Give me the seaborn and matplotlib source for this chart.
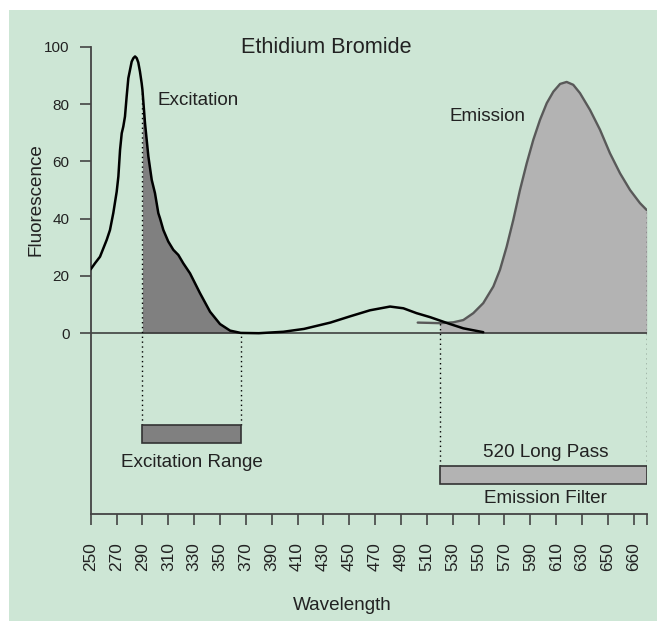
import numpy as np
import matplotlib
matplotlib.use("Agg")
import matplotlib.pyplot as plt
from matplotlib.patches import Rectangle
import seaborn as sns

# ---- data ----
exc_x = [250, 253.3, 257.2, 262.4, 264.9, 267.5, 270.1, 271.4, 272.7, 274, 275.2, 276.5, 277.8,
         279.1, 281.7, 283, 284.3, 285.6, 286.8, 288.1, 289.4, 290,
         292, 294.6, 297.2, 299.7, 302.3, 303.6, 306.2, 310, 313.9, 317.8, 321.6, 326.8,
         334.5, 342.3, 350, 357.8, 366, 380, 399, 415, 435.3, 450.7, 466, 481.5, 491.8,
         502, 512.5, 527.9, 538.2, 553.6]
exc_y = [22.3, 24.4, 26.7, 32.6, 36, 42, 49.4, 54.7, 64, 69.8, 72.1, 75.6, 82.6,
         89, 94.8, 96, 96.6, 96, 94.5, 91.3, 87.3, 85,
         73.3, 61.7, 53.5, 48.9, 41.9, 40.1, 36, 32, 29.1, 27.3, 24.4, 20.9,
         14, 7.5, 3.2, 0.9, 0.1, 0.0, 0.5, 1.5, 3.7, 5.9, 8.0, 9.3, 8.7,
         7.0, 5.6, 3.2, 1.7, 0.35]

em_x = [502.9, 512, 520, 530.4, 538.2, 545.9, 553.6, 561.4, 566.5, 571.7, 576.8, 582,
        587.2, 592.3, 597.5, 602.7, 607.8, 613, 618.1, 623.2, 628.4, 636.2, 643.9,
        651.6, 659.4, 667.1, 674.8, 680]
em_y = [3.7, 3.6, 3.5, 3.8, 4.6, 7, 10.5, 16.3, 22.1, 30.2, 39.5, 50,
        59.3, 67.5, 74.5, 80.3, 84.3, 87, 87.7, 86.7, 83.8, 77.9, 71,
        62.8, 55.8, 50, 45.4, 43]

exc_range = (290, 366)
em_filter = (520, 680)

x_ticks = [250, 270, 290, 310, 330, 350, 370, 390, 410, 430, 450, 470, 490, 510, 530,
           550, 570, 590, 610, 630, 650, 670, 680]
x_tick_labels = ["250", "270", "290", "310", "330", "350", "370", "390", "410", "430", "450",
                 "470", "490", "510", "530", "550", "570", "590", "610", "630", "650", "660", ""]
y_ticks = [0, 20, 40, 60, 80, 100]

# ---- style ----
sns.set_style("ticks")
plt.rcParams['font.family'] = ['Liberation Sans', 'DejaVu Sans']
TXT = "#222222"
AX = "#444444"
GREEN = "#cde6d5"
LBL = 13.6

fig = plt.figure(figsize=(6.57, 6.22), dpi=100)
fig.patch.set_facecolor("white")
fig.patches.append(Rectangle((9 / 657, 1 / 622), 1 - 9 / 657, 611 / 622,
                             transform=fig.transFigure, facecolor=GREEN,
                             edgecolor="none", zorder=-10))
ax = fig.add_axes([90.7 / 657, (622 - 513.7) / 622, 556 / 657, 467 / 622])
ax.set_facecolor("none")

ex = np.array(exc_x)
ey = np.array(exc_y)
mx = np.array(em_x)
my = np.array(em_y)

# fills
ax.fill_between(mx, my, 0, where=(mx >= em_filter[0]) & (mx <= em_filter[1]),
                color="#b3b3b3", linewidth=0, zorder=1)
ax.fill_between(ex, ey, 0, where=(ex >= exc_range[0]) & (ex <= exc_range[1]),
                color="#808080", linewidth=0, zorder=1)

# zero line
ax.axhline(0, color="#333333", lw=1.1, zorder=2)

# curves
sns.lineplot(x=mx, y=my, ax=ax, color="#595959", lw=1.7, estimator=None, zorder=3)
sns.lineplot(x=ex, y=ey, ax=ax, color="black", lw=1.8, estimator=None, zorder=4)

# dotted guide lines
exc_bar_top, exc_bar_bot = -32, -38.4
em_bar_top, em_bar_bot = -46.3, -52.6
for xv in exc_range:
    ax.vlines(xv, exc_bar_top, np.interp(xv, ex, ey), colors="black",
              linestyles=(0, (1, 2.5)), lw=1, zorder=5)
for xv in em_filter:
    ax.vlines(xv, em_bar_top, np.interp(xv, mx, my), colors="black",
              linestyles=(0, (1, 2.5)), lw=1, zorder=5)

# filter bars
ax.barh(y=(exc_bar_top + exc_bar_bot) / 2, width=exc_range[1] - exc_range[0],
        left=exc_range[0], height=exc_bar_top - exc_bar_bot,
        color="#808080", edgecolor="#333333", linewidth=1.2, zorder=5)
ax.barh(y=(em_bar_top + em_bar_bot) / 2, width=em_filter[1] - em_filter[0],
        left=em_filter[0], height=em_bar_top - em_bar_bot,
        color="#b3b3b3", edgecolor="#333333", linewidth=1.2, zorder=5)

# texts
ax.text(432, 97.7, "Ethidium Bromide", ha="center", va="baseline", fontsize=15.6, color=TXT)
ax.text(301.3, 79.7, "Excitation", ha="left", va="baseline", fontsize=LBL, color=TXT)
ax.text(527.4, 74.2, "Emission", ha="left", va="baseline", fontsize=LBL, color=TXT)
ax.text(328.4, -46.6, "Excitation Range", ha="center", va="baseline", fontsize=LBL, color=TXT)
ax.text(602, -43.1, "520 Long Pass", ha="center", va="baseline", fontsize=LBL, color=TXT)
ax.text(602, -59.1, "Emission Filter", ha="center", va="baseline", fontsize=LBL, color=TXT)

ax.text(-0.098, 0.672, "Fluorescence", transform=ax.transAxes, rotation=90,
        ha="center", va="center", fontsize=LBL, color=TXT)
ax.text(0.452, -0.206, "Wavelength", transform=ax.transAxes,
        ha="center", va="baseline", fontsize=LBL, color=TXT)
ax.set_xlabel("")
ax.set_ylabel("")

# axes
ax.set_xlim(250, 680)
ax.set_ylim(-63, 100)
ax.set_xticks(x_ticks)
ax.set_xticklabels(x_tick_labels, rotation=90, fontsize=12.4, color=TXT)
ax.set_yticks(y_ticks)
ax.set_yticklabels([str(v) for v in y_ticks], fontsize=11, color=TXT)
ax.tick_params(axis="x", direction="out", length=7.7, width=1.2, color=AX, pad=13)
ax.tick_params(axis="y", direction="out", length=7.7, width=1.2, color=AX, pad=7.5)
for s in ["top", "right"]:
    ax.spines[s].set_visible(False)
for s in ["left", "bottom"]:
    ax.spines[s].set_color(AX)
    ax.spines[s].set_linewidth(1.3)
ax.spines["left"].set_bounds(-63, 100)

fig.savefig("out.png", dpi=100, facecolor=fig.get_facecolor())
